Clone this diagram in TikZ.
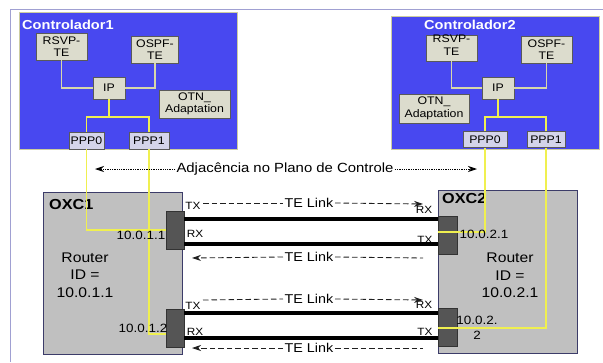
\documentclass[tikz,border=0pt]{standalone}
\usepackage{fontspec}
\setmainfont{Liberation Sans}[FakeStretch=1.12]
\usetikzlibrary{arrows.meta,calc}
\definecolor{ctrlblue}{RGB}{72,72,240}
\definecolor{ctrlborder}{RGB}{205,205,160}
\definecolor{boxbeige}{RGB}{220,220,205}
\definecolor{ppplav}{RGB}{212,212,234}
\definecolor{oxcgray}{RGB}{192,192,192}
\definecolor{oxcborder}{RGB}{60,60,105}
\definecolor{ifgray}{RGB}{85,85,85}
\definecolor{yelline}{RGB}{240,240,80}
\definecolor{beigeline}{RGB}{215,215,170}
\definecolor{framecol}{RGB}{160,160,210}
\newcommand\fsz[2]{\fontsize{#1}{#2}\selectfont}
\begin{document}
\begin{tikzpicture}[x=1pt,y=-1pt,
  ctrlbox/.style={draw=ctrlborder,fill=ctrlblue,line width=0.6pt,inner sep=0pt},
  cbox/.style={draw=black!65,fill=boxbeige,line width=0.5pt,inner sep=0pt,align=center,font=\fsz{11}{12.5}},
  pbox/.style={draw=black!65,fill=ppplav,line width=0.5pt,inner sep=0pt,align=center,font=\fsz{11}{12.5}},
  oxcbox/.style={draw=oxcborder,fill=oxcgray,line width=0.8pt,inner sep=0pt},
  ifbox/.style={draw=black!80,fill=ifgray,line width=0.5pt,inner sep=0pt},
  yel/.style={draw=yelline,line width=1.3pt},
  beig/.style={draw=beigeline,line width=1.6pt},
  linkline/.style={draw=black,line width=3.5pt},
  dashl/.style={draw=black!88,line width=0.85pt,dash pattern=on 5.5pt off 3pt},
  dotl/.style={draw=black,line width=0.9pt,dash pattern=on 1.3pt off 1pt},
  tip/.style={-{Stealth[length=9pt,width=6pt]}},
  lbl/.style={inner sep=0.5pt,font=\fsz{12}{14}},
  trx/.style={inner sep=0pt,font=\fsz{10.5}{12}},
  tel/.style={inner sep=1.5pt,font=\fsz{12.8}{14}},
]
\useasboundingbox (0,0) rectangle (603,362);
\fill[white] (0,0) rectangle (603,362);
% outer frame
\draw[framecol,line width=1pt] (10,362) -- (10,9) -- (603,9);

% ---------- Controller 1 ----------
\node[ctrlbox,minimum width=218pt,minimum height=137pt] (ctrl1) at (128,80.5) {};
\node[anchor=west,inner sep=0pt,text=white,font=\bfseries\fsz{13}{15}] (c1lbl) at (22,25) {Controlador1};
\node[cbox,minimum width=51pt,minimum height=27pt] (rsvp1) at (61.5,46.5) {RSVP-\\TE};
\node[cbox,minimum width=47pt,minimum height=27pt] (ospf1) at (155,49.5) {OSPF-\\TE};
\node[cbox,minimum width=32pt,minimum height=22pt] (ip1) at (109,88) {IP};
\node[cbox,minimum width=71pt,minimum height=28pt] (otn1) at (194.5,104) {OTN\_\\Adaptation};
\node[pbox,minimum width=35pt,minimum height=17pt] (ppp01) at (86.5,140.5) {PPP0};
\node[pbox,minimum width=40pt,minimum height=17pt] (ppp11) at (149,140.5) {PPP1};
\coordinate (j1) at (109,117);

% ---------- Controller 2 ----------
\node[ctrlbox,minimum width=208pt,minimum height=133pt] (ctrl2) at (495,82.5) {};
\node[anchor=west,inner sep=0pt,text=white,font=\bfseries\fsz{13}{15}] (c2lbl) at (424,25) {Controlador2};
\node[cbox,minimum width=51pt,minimum height=26pt] (rsvp2) at (451.5,48) {};
\node[inner sep=0pt,align=center,font=\fsz{11}{12.5}] (rsvp2t) at (451.5,45) {RSVP-\\TE};
\node[cbox,minimum width=51pt,minimum height=27pt] (ospf2) at (546.5,49.5) {OSPF-\\TE};
\node[cbox,minimum width=32pt,minimum height=22pt] (ip2) at (498,88) {IP};
\node[cbox,minimum width=70pt,minimum height=29pt] (otn2) at (434,108.5) {OTN\_\\Adaptation};
\node[pbox,minimum width=44pt,minimum height=16pt] (ppp02) at (485,139.5) {PPP0};
\node[pbox,minimum width=38pt,minimum height=16pt] (ppp12) at (546,139.5) {PPP1};
\coordinate (j2) at (498,117);

% controller internal connectors
\draw[beig] (rsvp1.south) |- (ip1.west);
\draw[beig] (ospf1.south) |- (ip1.east);
\draw[yel] (ip1.south) -- (j1);
\draw[yel] (ppp01.north) |- (j1);
\draw[yel] (ppp11.north) |- (j1);
\draw[beig] (rsvp2.south) |- (ip2.west);
\draw[beig] (ospf2.south) |- (ip2.east);
\draw[yel] (ip2.south) -- (j2);
\draw[yel] (ppp02.north) |- (j2);
\draw[yel] (ppp12.north) |- (j2);

% ---------- OXCs ----------
\node[oxcbox,minimum width=139pt,minimum height=162pt] (oxc1) at (112.5,273) {};
\node[oxcbox,minimum width=139pt,minimum height=163pt] (oxc2) at (507.5,271.5) {};
\node[anchor=west,inner sep=0pt,font=\bfseries\fsz{14.5}{16}] (o1lbl) at (49,205) {OXC1};
\node[anchor=west,inner sep=0pt,font=\bfseries\fsz{14.5}{16}] (o2lbl) at (442,199) {OXC2};
\node[inner sep=0pt,align=center,font=\fsz{14}{17.5}] (rid1) at (85,275) {Router\\ID =\\10.0.1.1};
\node[inner sep=0pt,align=center,font=\fsz{14}{17.5}] (rid2) at (510,275.5) {Router\\ID =\\10.0.2.1};

\node[ifbox,minimum width=18pt,minimum height=38pt] (if11) at (175,230) {};
\node[ifbox,minimum width=18pt,minimum height=38pt] (if12) at (175,328) {};
\node[ifbox,minimum width=19pt,minimum height=38pt] (if21) at (447.5,235) {};
\node[ifbox,minimum width=19pt,minimum height=38pt] (if22) at (447.5,327) {};

% yellow lines to interfaces
\draw[yel] (ppp01.south) |- (if11.west);
\draw[yel] (ppp11.south) |- (if12.west |- 0,334);
\draw[yel] (ppp02.south) |- (if21.west |- 0,232);
\draw[yel] (ppp12.south) |- (if22.west |- 0,328);

\node[lbl,anchor=east] (a11) at (166,235) {10.0.1.1};
\node[lbl,anchor=east] (a12) at (168,328) {10.0.1.2};
\node[lbl,anchor=west] (a21) at (459,234) {10.0.2.1};
\node[inner sep=0pt,align=center,font=\fsz{12}{15}] (a22) at (477,327.5) {10.0.2.\\2};

% thick links
\draw[linkline] (if11.east |- 0,219) -- (if21.west |- 0,219);
\draw[linkline] (if11.east |- 0,244) -- (if21.west |- 0,244);
\draw[linkline] (if12.east |- 0,313) -- (if22.west |- 0,313);
\draw[linkline] (if12.east |- 0,338) -- (if22.west |- 0,338);

% TX / RX labels
\node[trx] (tx1) at (193,206) {TX};
\node[trx] (rx1) at (195,234) {RX};
\node[trx] (rx1r) at (424,210) {RX};
\node[trx] (tx1r) at (425,239.5) {TX};
\node[trx] (tx2) at (193,306) {TX};
\node[trx] (rx2) at (195,332) {RX};
\node[trx] (rx2r) at (424,305) {RX};
\node[trx] (tx2r) at (425,332) {TX};

% TE Link dashed arrows
\node[tel] (te1) at (309,203) {TE Link};
\node[tel] (te2) at (309,257) {TE Link};
\node[tel] (te3) at (309,299) {TE Link};
\node[tel] (te4) at (309,348) {TE Link};
\coordinate (d1s) at (203,203);
\coordinate (d1e) at (423,204);
\coordinate (d2s) at (192,258);
\coordinate (d2e) at (423,258);
\coordinate (d3s) at (203,300);
\coordinate (d3e) at (423,300);
\coordinate (d4s) at (192,348);
\coordinate (d4e) at (423,348);
\draw[dashl] (d1s) -- (te1.west);
\draw[dashl,tip] (te1.east) -- (d1e);
\draw[dashl,tip] (te2.west) -- (d2s);
\draw[dashl] (te2.east) -- (d2e);
\draw[dashl] (d3s) -- (te3.west);
\draw[dashl,tip] (te3.east) -- (d3e);
\draw[dashl,tip] (te4.west) -- (d4s);
\draw[dashl] (te4.east) -- (d4e);

% adjacency
\node[inner sep=1pt,font=\fsz{13.3}{15}] (adj) at (285,169) {Adjacência no Plano de Controle};
\coordinate (adjL) at (95,169);
\coordinate (adjR) at (477,169);
\draw[dotl,tip] (adj.west) -- (adjL);
\draw[dotl,tip] (adj.east) -- (adjR);
\end{tikzpicture}
\end{document}
